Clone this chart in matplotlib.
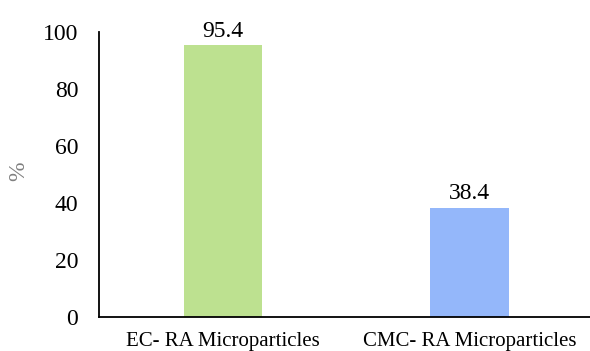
import matplotlib
matplotlib.use("Agg")
import matplotlib.pyplot as plt

# release efficiency per formulation
categories = ['EC- RA Microparticles', 'CMC- RA Microparticles']
values = [95.4, 38.4]
colors = ['#BDE190', '#94B7FA']

plt.rcParams['font.family'] = ['Liberation Serif', 'DejaVu Serif']

fig = plt.figure(figsize=(5.9, 3.51), dpi=100)
ax = fig.add_axes([0.168, 0.097, 0.837, 0.812])

bars = ax.bar(range(len(categories)), values, width=0.316, color=colors)
for b, v in zip(bars, values):
    ax.text(b.get_x() + b.get_width() / 2, v + 1.2, f'{v}', ha='center', va='bottom', fontsize=17)

ax.set_xlim(-0.5, 1.5)
ax.set_ylim(0, 100)
ax.set_yticks([0, 20, 40, 60, 80, 100])
ax.set_xticks(range(len(categories)))
ax.set_xticklabels(categories, fontsize=15)
ax.tick_params(axis='y', labelsize=17, length=0, pad=15)
ax.tick_params(axis='x', length=0, pad=11)
ax.spines['top'].set_visible(False)
ax.spines['right'].set_visible(False)
ax.spines['left'].set_linewidth(1.3)
ax.spines['bottom'].set_linewidth(1.3)
ax.set_ylabel('%', color='#808080', fontsize=17, va='center')
ax.yaxis.set_label_coords(-0.162, 0.51)

fig.savefig('out.png', dpi=100)
